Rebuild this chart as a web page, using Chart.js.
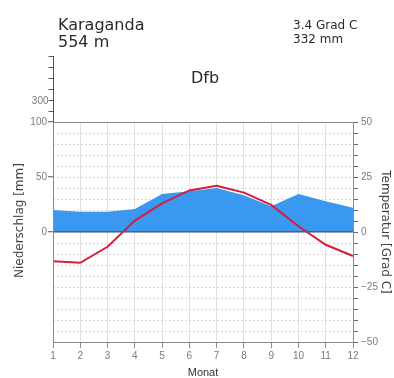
<!DOCTYPE html>
<html>
<head>
<meta charset="utf-8">
<script src="https://cdn.jsdelivr.net/npm/chart.js@4"></script>
<style>
  html, body { margin: 0; padding: 0; background: #fff; }
</style>
</head>
<body>
<canvas id="myChart" width="394" height="378"></canvas>
<script>
// station info
const station = 'Karaganda';
const altitude = '554 m';
const meanTemp = '3.4 Grad C';
const totalPrecip = '332 mm';
const climateClass = 'Dfb';

// monthly values
const months = ['1', '2', '3', '4', '5', '6', '7', '8', '9', '10', '11', '12'];
const temperature = [-13.3, -14.0, -6.7, 5.2, 13.0, 18.9, 21.0, 17.9, 12.3, 2.6, -5.8, -10.9];
const precipitation = [20, 18.5, 18.5, 21, 34.5, 37, 40, 33.5, 23.5, 34.5, 28, 22];

// tick labels
const precipLabels = [0, 50, 100];
const tempLabels = [-50, -25, 0, 25, 50];
const upperSteps = [200, 300, 400, 500, 600, 700]; // above 100 mm the scale is 1:10
const upperLabels = [300];

const gridGray = '#d9d9d9';
const axisGray = '#8a8a8a';
const labelGray = '#7a7a7a';

const extras = {
    id: 'extras',
    afterDraw(chart) {
        const ctx = chart.ctx;
        const y = chart.scales.y;
        const p100 = y.getPixelForValue(100);
        const pxPerMm = (y.getPixelForValue(0) - p100) / 100;
        const x0 = Math.round(y.right) + 0.5;
        ctx.save();
        // compressed precipitation axis above 100 mm
        const topPx = p100 - (upperSteps[upperSteps.length - 1] - 100) * pxPerMm * 0.1;
        ctx.strokeStyle = '#555';
        ctx.lineWidth = 1;
        ctx.beginPath();
        ctx.moveTo(x0, p100);
        ctx.lineTo(x0, topPx);
        upperSteps.forEach(v => {
            const py = Math.round(p100 - (v - 100) * pxPerMm * 0.1) + 0.5;
            ctx.moveTo(x0 - 5, py);
            ctx.lineTo(x0, py);
        });
        ctx.stroke();
        ctx.fillStyle = labelGray;
        ctx.font = '10px "Liberation Sans"';
        ctx.textAlign = 'right';
        ctx.textBaseline = 'middle';
        upperLabels.forEach(v => {
            const py = p100 - (v - 100) * pxPerMm * 0.1;
            ctx.fillText(String(v), x0 - 5, py + 1);
        });

        // header
        ctx.fillStyle = '#2a2a2a';
        ctx.textAlign = 'left';
        ctx.textBaseline = 'alphabetic';
        ctx.font = '16px "DejaVu Sans"';
        ctx.fillText(station, 58, 29.5);
        ctx.fillText(altitude, 58, 46.5);
        ctx.font = '12px "DejaVu Sans"';
        ctx.fillText(meanTemp, 293, 28.5);
        ctx.fillText(totalPrecip, 293, 42.5);
        ctx.font = '16px "DejaVu Sans"';
        ctx.textAlign = 'center';
        ctx.fillText(climateClass, 205, 82.5);
        ctx.restore();
    }
};

const ctx = document.getElementById('myChart').getContext('2d');
const myChart = new Chart(ctx, {
    type: 'line',
    data: {
        labels: months,
        datasets: [
            {
                label: 'Temperatur',
                data: temperature,
                yAxisID: 'y1',
                borderColor: 'rgb(212, 30, 58)',
                borderWidth: 2,
                pointRadius: 0,
                fill: false,
                tension: 0,
                order: 0
            },
            {
                label: 'Niederschlag',
                data: precipitation,
                yAxisID: 'y',
                borderWidth: 0,
                borderColor: 'rgba(0,0,0,0)',
                backgroundColor: 'rgb(58, 152, 240)',
                pointRadius: 0,
                fill: 'origin',
                tension: 0,
                order: 1
            }
        ]
    },
    options: {
        responsive: false,
        devicePixelRatio: 1,
        animation: false,
        layout: { padding: { top: 122, left: 0, right: 0, bottom: 0 } },
        plugins: {
            legend: { display: false },
            tooltip: { enabled: false }
        },
        scales: {
            x: {
                offset: false,
                grid: {
                    offset: false,
                    color: '#e0e0e0',
                    tickColor: axisGray,
                    tickLength: 6
                },
                border: { color: axisGray },
                ticks: {
                    color: labelGray,
                    font: { family: 'Liberation Sans', size: 10 },
                    padding: 2,
                    maxRotation: 0,
                    autoSkip: false
                },
                title: {
                    display: true,
                    text: 'Monat',
                    color: '#333',
                    font: { family: 'Liberation Sans', size: 11, lineHeight: 1 },
                    padding: { top: 0, bottom: 0 }
                },
                afterFit(scale) { scale.height = 36; }
            },
            y: {
                position: 'left',
                min: -100,
                max: 100,
                afterBuildTicks(scale) {
                    scale.ticks = [-100, -50, 0, 50, 100].map(v => ({ value: v }));
                },
                grid: {
                    z: 1,
                    color: c => (c.tick && c.tick.value === 0) ? '#4f5f75' : 'rgba(0,0,0,0)',
                    lineWidth: 1.5,
                    tickColor: c => (c.tick && precipLabels.includes(c.tick.value)) ? '#555' : 'rgba(0,0,0,0)',
                    tickWidth: 1,
                    tickLength: 5
                },
                border: { color: axisGray, z: 1 },
                ticks: {
                    color: labelGray,
                    autoSkip: false,
                    font: { family: 'Liberation Sans', size: 10 },
                    padding: 1,
                    callback: v => precipLabels.includes(v) ? String(v) : ''
                },
                title: {
                    display: true,
                    text: '      Niederschlag [mm]',
                    color: '#444',
                    font: { family: 'DejaVu Sans', size: 12, lineHeight: 1.2 },
                    padding: { top: 13, bottom: 0 }
                },
                afterFit(scale) { scale.width = 53; }
            },
            y1: {
                position: 'right',
                min: -50,
                max: 50,
                ticks: {
                    stepSize: 5,
                    autoSkip: false,
                    color: labelGray,
                    font: { family: 'Liberation Sans', size: 10 },
                    padding: 3,
                    callback: v => tempLabels.includes(v) ? (v < 0 ? '\u2212' + Math.abs(v) : String(v)) : ''
                },
                grid: {
                    color: c => (c.tick && c.tick.value === 50) ? axisGray : gridGray,
                    tickColor: '#666',
                    tickLength: 5
                },
                border: {
                    color: axisGray,
                    dash: c => (c.tick && c.tick.value === 50) ? [] : [2, 2]
                },
                title: {
                    display: true,
                    text: 'Temperatur [Grad C]',
                    color: '#444',
                    font: { family: 'DejaVu Sans', size: 12, lineHeight: 1.2 },
                    padding: { top: 2, bottom: 0 }
                },
                afterFit(scale) { scale.width = 41; }
            }
        }
    },
    plugins: [extras]
});
</script>
</body>
</html>
